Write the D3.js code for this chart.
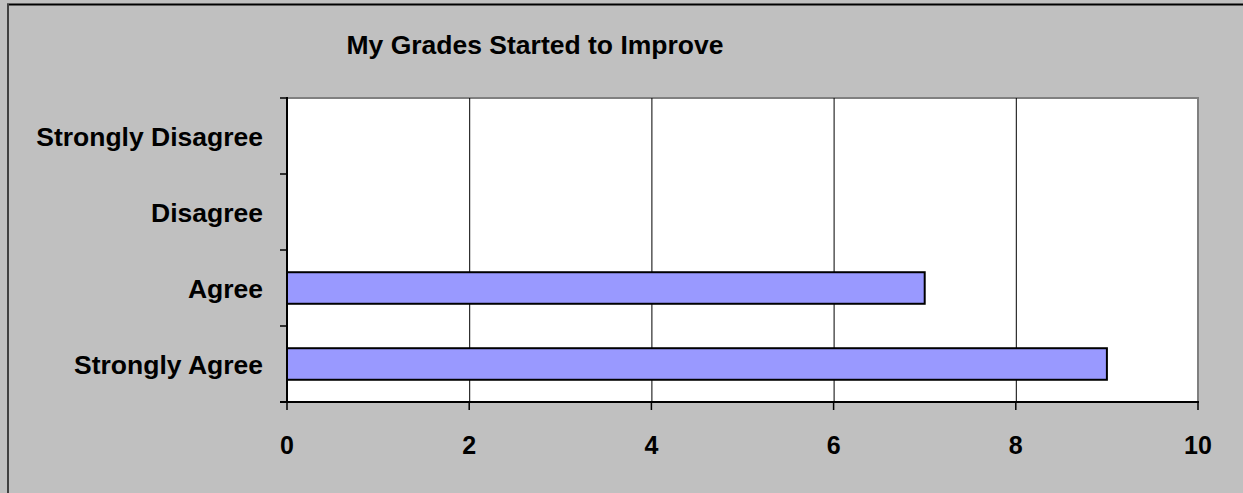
<!DOCTYPE html>
<html><head><meta charset="utf-8">
<script src="https://cdn.jsdelivr.net/npm/d3@7"></script>
<style>html,body{margin:0;padding:0;background:#c0c0c0;overflow:hidden}svg{display:block}</style>
</head><body>
<script>
const title = "My Grades Started to Improve";
const categories = ["Strongly Disagree", "Disagree", "Agree", "Strongly Agree"];
const values = [0, 0, 7, 9];
const xTicks = [0, 2, 4, 6, 8, 10];

const W = 1243, H = 493;
const m = {left: 287, right: 1198, top: 98, bottom: 402};
const font = "'Liberation Sans', Arial, sans-serif";

const svg = d3.select("body").append("svg").attr("width", W).attr("height", H);
svg.append("rect").attr("width", W).attr("height", H).attr("fill", "#c0c0c0");
// outer frame
svg.append("line").attr("x1", 7).attr("x2", W).attr("y1", 4.5).attr("y2", 4.5).attr("stroke", "#000").attr("stroke-width", 2);
svg.append("line").attr("x1", 8).attr("x2", 8).attr("y1", 4).attr("y2", H).attr("stroke", "#404040").attr("stroke-width", 2);

const x = d3.scaleLinear().domain([0, 10]).range([m.left, m.right]);
const yStep = d3.scaleBand().domain(categories).range([m.top, m.bottom]).padding(0);
const y = d3.scaleBand().domain(categories).range([m.top, m.bottom]).paddingInner(0.585).paddingOuter(0.2925);

// plot area
svg.append("rect").attr("x", m.left).attr("y", m.top).attr("width", m.right - m.left).attr("height", m.bottom - m.top)
  .attr("fill", "#fff").attr("stroke", "#808080").attr("stroke-width", 2);

// gridlines
svg.append("g").selectAll("line").data(xTicks.filter(d => d > 0 && d < 10)).join("line")
  .attr("x1", d => x(d) + 0.5).attr("x2", d => x(d) + 0.5).attr("y1", m.top).attr("y2", m.bottom)
  .attr("stroke", "#000").attr("stroke-width", 1);

// bars
svg.append("g").selectAll("rect").data(categories.map((c, i) => ({c, v: values[i]})).filter(d => d.v > 0)).join("rect")
  .attr("x", x(0)).attr("y", d => y(d.c)).attr("width", d => x(d.v) - x(0)).attr("height", y.bandwidth())
  .attr("fill", "#9999ff").attr("stroke", "#000").attr("stroke-width", 2);

// axes lines
svg.append("line").attr("x1", m.left).attr("x2", m.left).attr("y1", m.top - 1).attr("y2", m.bottom + 1).attr("stroke", "#000").attr("stroke-width", 2);
svg.append("line").attr("x1", m.left - 7).attr("x2", m.right + 1).attr("y1", m.bottom).attr("y2", m.bottom).attr("stroke", "#000").attr("stroke-width", 2);

// y boundary ticks
const bounds = categories.map(c => yStep(c)).concat([m.bottom]);
svg.append("g").selectAll("line").data(bounds).join("line")
  .attr("x1", m.left - 7).attr("x2", m.left).attr("y1", d => d).attr("y2", d => d)
  .attr("stroke", "#000").attr("stroke-width", 1.5);

// x ticks
svg.append("g").selectAll("line").data(xTicks).join("line")
  .attr("x1", d => x(d)).attr("x2", d => x(d)).attr("y1", m.bottom).attr("y2", m.bottom + 8)
  .attr("stroke", "#000").attr("stroke-width", 1.5);

// x tick labels
svg.append("g").selectAll("text").data(xTicks).join("text")
  .attr("x", d => x(d)).attr("y", 454).attr("text-anchor", "middle")
  .attr("font-family", font).attr("font-weight", "bold").attr("font-size", 25).attr("fill", "#000")
  .text(d => d);

// category labels
svg.append("g").selectAll("text").data(categories).join("text")
  .attr("x", 263).attr("y", d => yStep(d) + yStep.bandwidth() / 2 + 10).attr("text-anchor", "end")
  .attr("font-family", font).attr("font-weight", "bold").attr("font-size", 26.5).attr("fill", "#000")
  .text(d => d);

// title
svg.append("text").attr("x", 535).attr("y", 54).attr("text-anchor", "middle")
  .attr("font-family", font).attr("font-weight", "bold").attr("font-size", 26.5).attr("fill", "#000")
  .text(title);
</script>
</body></html>
